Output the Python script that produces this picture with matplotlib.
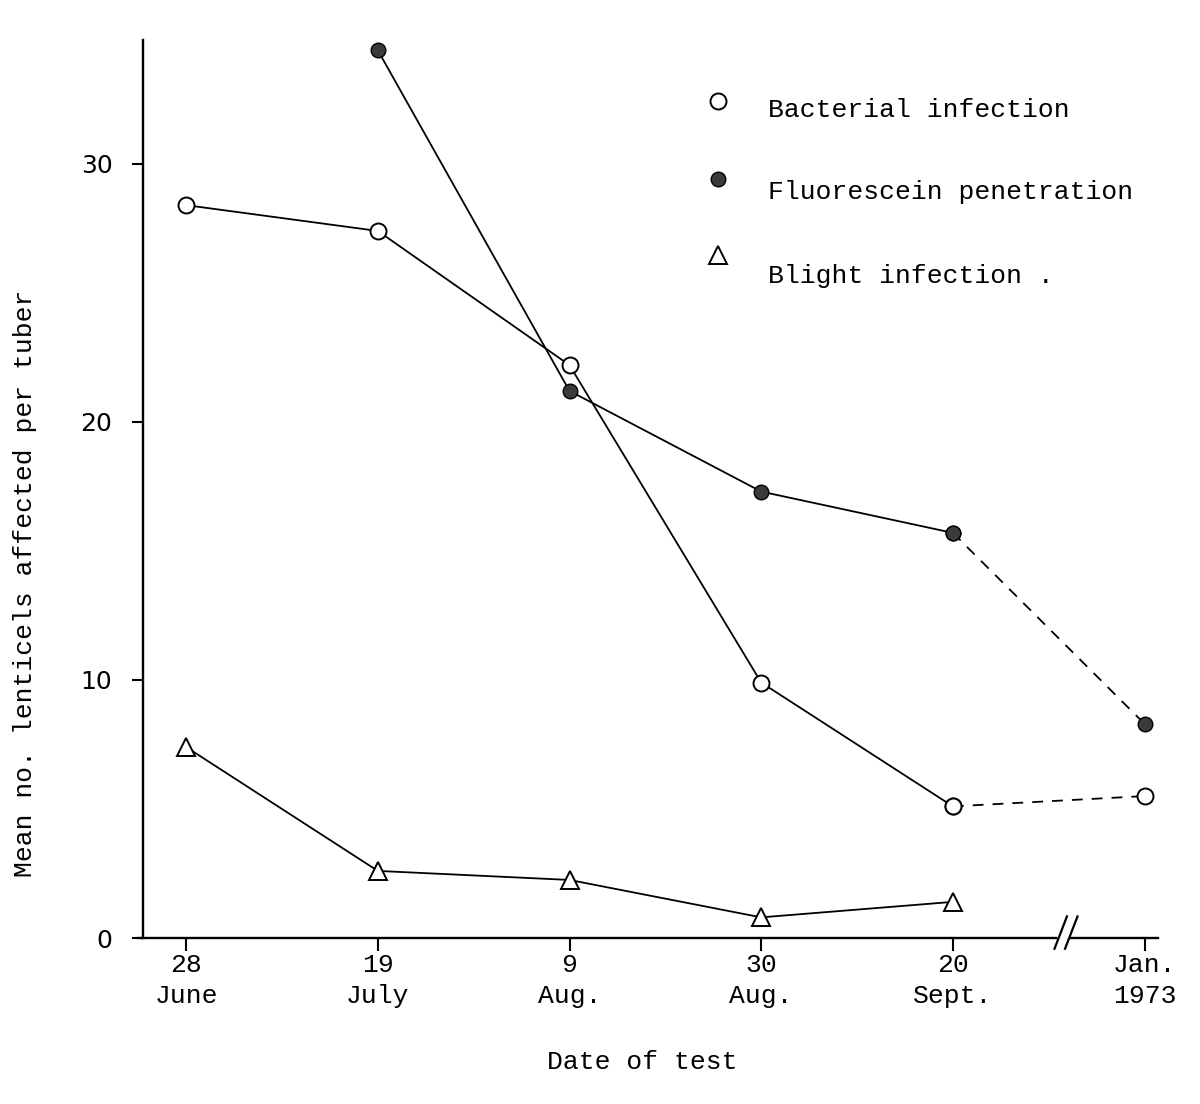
import matplotlib
matplotlib.use("Agg")
import matplotlib.pyplot as plt

# --- data ---
dates = ["28\nJune", "19\nJuly", "9\nAug.", "30\nAug.", "20\nSept.", "Jan.\n1973"]
bacterial = [28.4, 27.4, 22.2, 9.9, 5.1, 5.5]
fluorescein = [None, 34.4, 21.2, 17.3, 15.7, 8.3]
blight = [7.4, 2.6, 2.25, 0.8, 1.4]

MONO = "Liberation Mono"
FS = 19

fig = plt.figure(figsize=(12, 11.04), dpi=100)
ax = fig.add_axes([143 / 1200, 1 - 938 / 1104, (1158 - 143) / 1200, (938 - 40) / 1104])

x = list(range(len(dates)))
lw = 1.3
circ = dict(marker="o", ms=11.5, mfc="white", mec="black", mew=1.4)
dot = dict(marker="o", ms=10.5, mfc="#3a3a3a", mec="black", mew=1.0)
tri = dict(marker="^", ms=13, mfc="white", mec="black", mew=1.4)

# solid part up to September, dashed link to January
ax.plot(x[:5], bacterial[:5], color="black", lw=lw, **circ, zorder=3)
ax.plot(x[4:], bacterial[4:], color="black", lw=lw, ls=(0, (6, 5)), **circ, zorder=3)
ax.plot(x[1:5], fluorescein[1:5], color="black", lw=lw, **dot, zorder=3)
ax.plot(x[4:], fluorescein[4:], color="black", lw=lw, ls=(0, (6, 5)), **dot, zorder=3)
ax.plot(x[:5], blight, color="black", lw=lw, **tri, zorder=3)

ax.set_xlim(-0.225, 5.07)
ax.set_ylim(0, 34.8)

for s in ["top", "right", "bottom"]:
    ax.spines[s].set_visible(False)
ax.spines["left"].set_linewidth(1.7)

# x axis drawn in two pieces with a break mark
brk = 4.56
xt = ax.get_xaxis_transform()
ax.plot([-0.25, brk - 0.02], [0, 0], color="black", lw=1.7, transform=xt, clip_on=False)
ax.plot([brk + 0.055, 5.07], [0, 0], color="black", lw=1.7, transform=xt, clip_on=False)
for dx in (0.0, 0.055):
    ax.plot([brk - 0.03 + dx, brk + 0.035 + dx], [-0.012, 0.024], color="black", lw=1.6,
            transform=xt, clip_on=False)

ax.set_xticks(x)
ax.set_xticklabels(dates, fontfamily=MONO, fontsize=FS, linespacing=1.35)
ax.set_yticks([0, 10, 20, 30])
ax.set_yticklabels(["0", "10", "20", "30"], fontfamily="DejaVu Sans", fontsize=18)
ax.tick_params(axis="x", direction="out", length=9, width=1.5, pad=2)
ax.tick_params(axis="y", direction="out", length=8, width=1.5, pad=14)

fig.text(642 / 1200, 1 - 1062 / 1104, "Date of test", fontfamily=MONO, fontsize=FS,
         ha="center", va="center")
fig.text(25 / 1200, 1 - 583 / 1104, "Mean no. lenticels affected per tuber", fontfamily=MONO,
         fontsize=FS, rotation=90, ha="center", va="center")

# key
keys = [("Bacterial infection", circ, 101, 110),
        ("Fluorescein penetration", dot, 179, 192),
        ("Blight infection .", tri, 255, 276)]
for label, style, my, ty in keys:
    ax.plot([718 / 1200], [1 - my / 1104], transform=fig.transFigure, clip_on=False,
            ls="none", **style)
    fig.text(768 / 1200, 1 - ty / 1104, label, fontfamily=MONO, fontsize=FS, va="center")

fig.savefig("out.png", dpi=100, facecolor="white")
